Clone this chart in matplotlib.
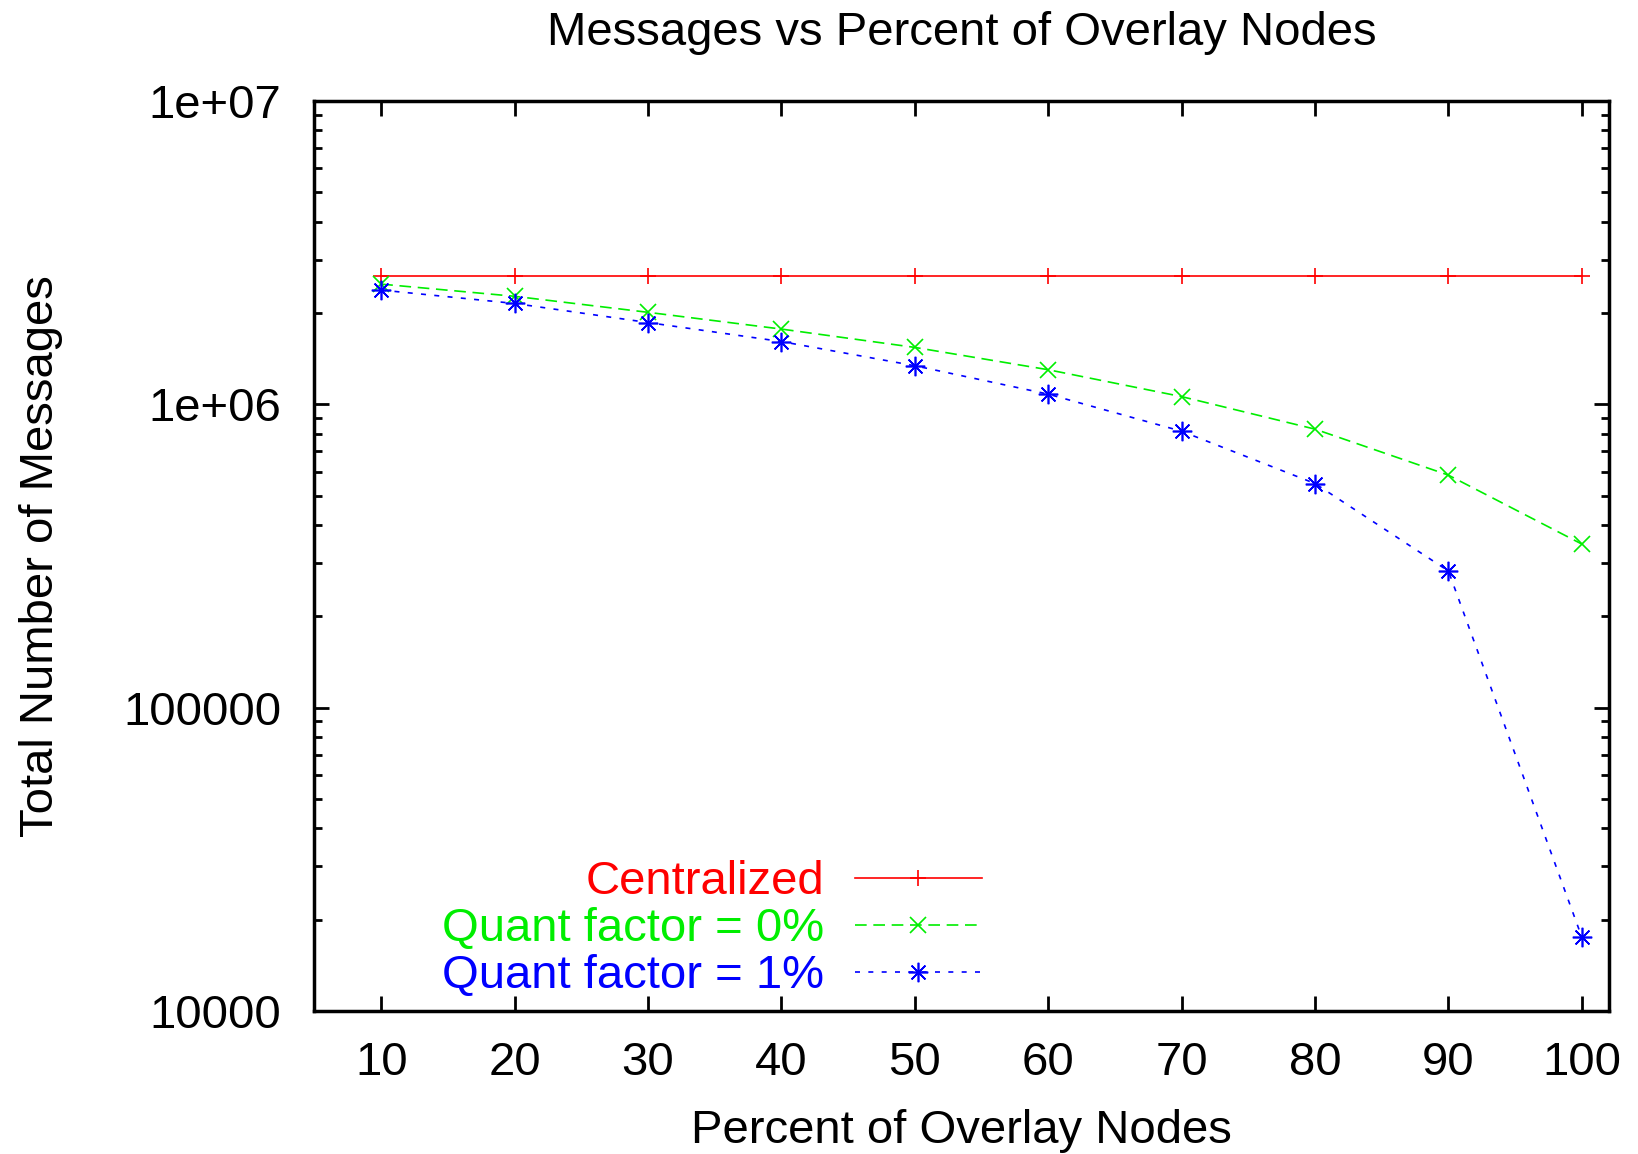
import matplotlib
matplotlib.use("Agg")
import matplotlib.pyplot as plt
from matplotlib.ticker import FixedLocator, NullFormatter

plt.rcParams["font.family"] = ["Liberation Sans", "DejaVu Sans"]

# data
percent = [10, 20, 30, 40, 50, 60, 70, 80, 90, 100]
centralized = [2.64e6] * 10
quant0 = [2.49e6, 2.27e6, 2.01e6, 1.77e6, 1.54e6, 1.30e6, 1.06e6, 8.28e5, 5.84e5, 3.46e5]
quant1 = [2.38e6, 2.15e6, 1.86e6, 1.61e6, 1.34e6, 1.08e6, 8.15e5, 5.48e5, 2.82e5, 1.75e4]
ytick_vals = [1e4, 1e5, 1e6, 1e7]
ytick_labels = ["10000", "100000", "1e+06", "1e+07"]

fs = 34
fig = plt.figure(figsize=(16.38, 11.54), dpi=100)
ax = fig.add_axes([0.192, 0.124, 0.790, 0.7885])

ax.plot(percent, centralized, color="#ff0000", lw=1.2, marker="+", ms=12, mew=1.2,
        label="Centralized")
ax.plot(percent, quant0, color="#00ee00", lw=1.2, ls=(0, (7, 4)), marker="x", ms=12, mew=1.2,
        label="Quant factor = 0%")
ax.plot(percent, quant1, color="#0000ff", lw=1.2, ls=(0, (3, 5)), marker=(8, 2, 0), ms=14, mew=1.2,
        label="Quant factor = 1%")

ax.set_yscale("log")
ax.set_xlim(5, 102)
ax.set_ylim(1e4, 1e7)
ax.set_xticks(percent)
ax.yaxis.set_major_locator(FixedLocator(ytick_vals))
ax.set_yticklabels(ytick_labels)
ax.yaxis.set_minor_formatter(NullFormatter())

ax.tick_params(which="both", direction="in", top=True, right=True, labelsize=fs, width=2)
ax.tick_params(which="major", length=11, pad=24)
ax.tick_params(axis="x", which="major", pad=22)
ax.tick_params(which="minor", length=6)
ax.tick_params(axis="x", which="minor", bottom=False, top=False)
for s in ax.spines.values():
    s.set_linewidth(2.5)

ax.set_title("Messages vs Percent of Overlay Nodes", fontsize=fs, pad=40)
ax.set_xlabel("Percent of Overlay Nodes", fontsize=fs, labelpad=17)
ax.set_ylabel("Total Number of Messages", fontsize=fs, labelpad=43)

leg = ax.legend(loc="lower left", bbox_to_anchor=(0.0765, -0.017), frameon=False, fontsize=fs,
                markerfirst=False, handlelength=2.7, handletextpad=0.65, labelspacing=0.06,
                borderaxespad=0.2)
for txt, line in zip(leg.get_texts(), ax.get_lines()):
    txt.set_color(line.get_color())

fig.savefig("out.png")
